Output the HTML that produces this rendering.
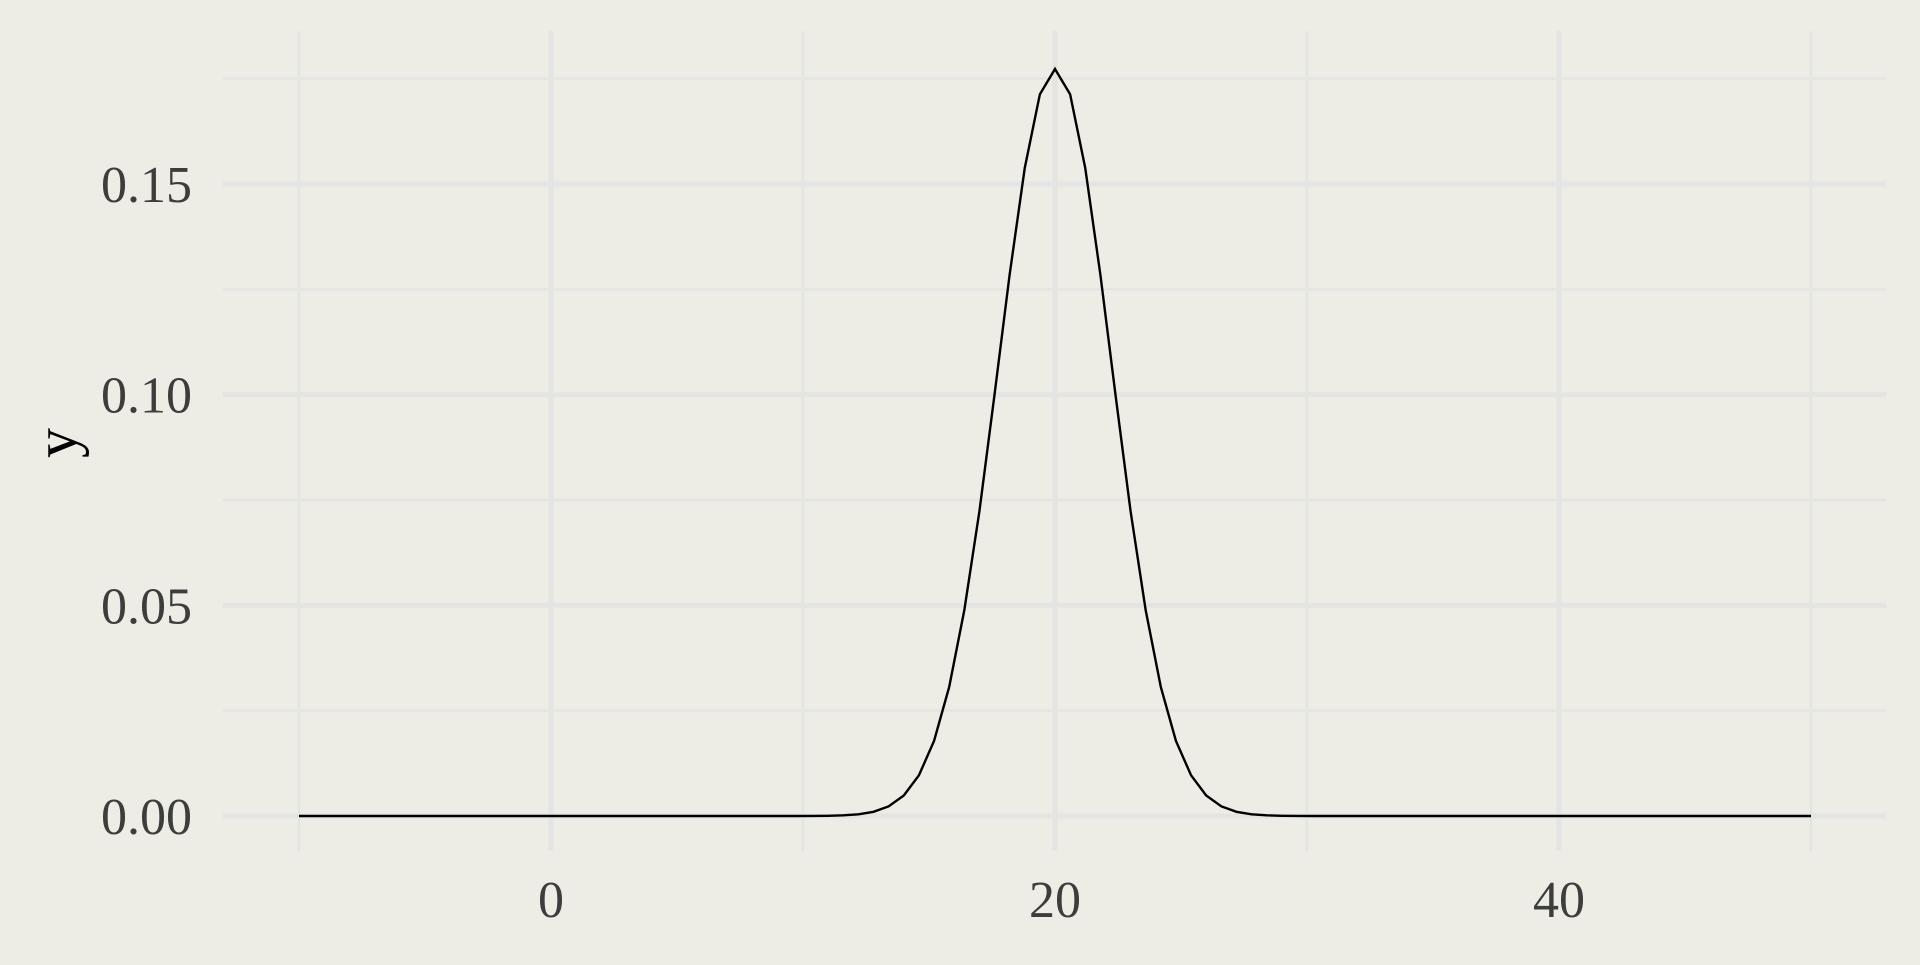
<!DOCTYPE html>
<html><head><meta charset="utf-8"><style>
html,body{margin:0;padding:0;background:#edede5;}
svg text{font-family:"Liberation Serif",serif;}
</style></head><body>
<svg width="1920" height="960" xmlns="http://www.w3.org/2000/svg">
<rect width="1920" height="960" fill="#edede5"/>
<g id="grid"></g>
<g id="ticks"></g>
<path id="curve" fill="none" stroke="#000" stroke-width="2.4"/>
<text x="62" y="443" font-size="60" fill="#000" text-anchor="middle" transform="rotate(-90 62 443)" dominant-baseline="middle">y</text>
</svg>
<script>
const xStart = -10, xStep = 0.6;
const tail = new Array(34).fill(0);
const rise = [0.0000178,0.0000542,0.000154,0.000407,0.00100,0.00229,0.00487,0.00966,0.0178,0.0306,0.0488,0.0723,0.1000,0.1285,0.1538,0.1713];
const peak = [0.1773];
const yValues = tail.concat(rise, peak, rise.slice().reverse(), tail);
const xMajor = [0,20,40];
const xMinor = [-10,10,30,50];
const yMajor = [0,0.05,0.10,0.15];
const yMinor = [0.025,0.075,0.125,0.175];
const yLabels = ["0.00","0.05","0.10","0.15"];
const xLabels = ["0","20","40"];

const L=223,R=1886,T=31,B=851;
const X=v=>551+(v-0)*(1055-551)/20;
const Y=v=>816-v*(816-184)/0.15;
const NS="http://www.w3.org/2000/svg";
const grid=document.getElementById('grid'), ticks=document.getElementById('ticks');
function line(x1,y1,x2,y2,w,name){const l=document.createElementNS(NS,'line');
l.setAttribute('x1',x1);l.setAttribute('y1',y1);l.setAttribute('x2',x2);l.setAttribute('y2',y2);
l.setAttribute('stroke','#e4e4e2');l.setAttribute('stroke-width',w);


grid.appendChild(l);}
yMinor.forEach(v=>line(L,Y(v),R,Y(v),2.5,'y-minor-gridline'));
xMinor.forEach(v=>line(X(v),T,X(v),B,2.5,'x-minor-gridline'));
yMajor.forEach(v=>line(L,Y(v),R,Y(v),5,'y-major-gridline'));
xMajor.forEach(v=>line(X(v),T,X(v),B,5,'x-major-gridline'));
function txt(x,y,s,anchor,name){const t=document.createElementNS(NS,'text');
t.setAttribute('x',x);t.setAttribute('y',y);t.setAttribute('font-size','52');t.setAttribute('fill','#3d3d3d');
t.setAttribute('text-anchor',anchor);t.textContent=s;


ticks.appendChild(t);}
yMajor.forEach((v,i)=>txt(192,Y(v)+18,yLabels[i],'end','y-tick-label'));
xMajor.forEach((v,i)=>txt(X(v),917,xLabels[i],'middle','x-tick-label'));
let d='';
yValues.forEach((v,i)=>{const x=X(xStart+xStep*i);d+=(i?'L':'M')+x.toFixed(2)+','+Y(v).toFixed(2);});
document.getElementById('curve').setAttribute('d',d);
</script>
</body></html>
